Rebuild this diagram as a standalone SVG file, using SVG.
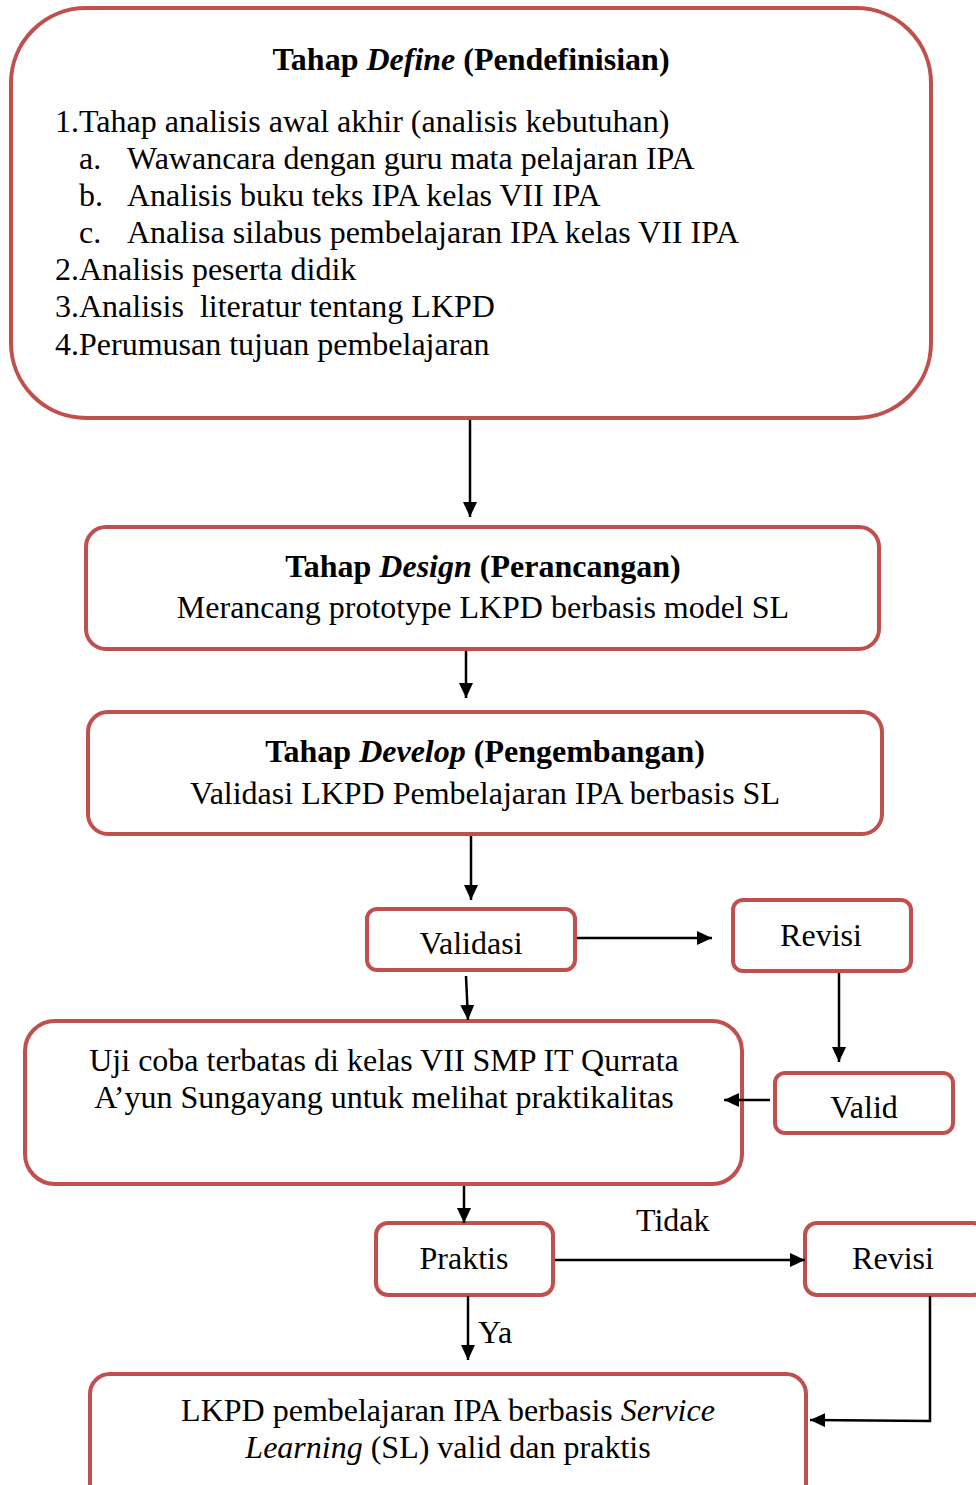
<svg xmlns="http://www.w3.org/2000/svg" width="976" height="1485" viewBox="0 0 976 1485">
<style>
.box{fill:#fff;stroke:#C0504D;stroke-width:4}
text{font-family:"Liberation Serif","Times New Roman",serif;font-size:32px;fill:#000}
.c{text-anchor:middle}
.b{font-weight:bold}
.i{font-style:italic}
.ln{stroke:#000;stroke-width:2.5;fill:none}
</style>
<defs>
<marker id="ah" markerWidth="15" markerHeight="14" refX="15" refY="7" orient="auto" markerUnits="userSpaceOnUse" viewBox="0 0 15 14">
<path d="M0,0 L15,7 L0,14 z" fill="#000"/>
</marker>
</defs>
<rect width="976" height="1485" fill="#fff"/>
<g id="define">
<rect class="box" x="11" y="8" width="920" height="410" rx="75" ry="75"/>
<text class="c b" x="471" y="70">Tahap <tspan class="i">Define</tspan> (Pendefinisian)</text>
<text x="55" y="132">1.Tahap analisis awal akhir (analisis kebutuhan)</text>
<text x="79" y="169">a.</text><text x="127" y="169">Wawancara dengan guru mata pelajaran IPA</text>
<text x="79" y="206">b.</text><text x="127" y="206">Analisis buku teks IPA kelas VII IPA</text>
<text x="79" y="243">c.</text><text x="127" y="243">Analisa silabus pembelajaran IPA kelas VII IPA</text>
<text x="55" y="280">2.Analisis peserta didik</text>
<text x="55" y="317" xml:space="preserve">3.Analisis  literatur tentang LKPD</text>
<text x="55" y="355">4.Perumusan tujuan pembelajaran</text>
</g>
<g id="design">
<rect class="box" x="86" y="527" width="793" height="122" rx="20" ry="20"/>
<text class="c b" x="483" y="577">Tahap <tspan class="i">Design</tspan> (Perancangan)</text>
<text class="c" x="483" y="618">Merancang prototype LKPD berbasis model SL</text>
</g>
<g id="develop">
<rect class="box" x="88" y="712" width="794" height="122" rx="20" ry="20"/>
<text class="c b" x="485" y="762">Tahap <tspan class="i">Develop</tspan> (Pengembangan)</text>
<text class="c" x="485" y="804">Validasi LKPD Pembelajaran IPA berbasis SL</text>
</g>
<g id="validasi">
<rect class="box" x="367" y="909" width="208" height="61" rx="10" ry="10"/>
<text class="c" x="471" y="954">Validasi</text>
</g>
<g id="revisi1">
<rect class="box" x="733" y="900" width="178" height="71" rx="10" ry="10"/>
<text class="c" x="821" y="946">Revisi</text>
</g>
<g id="valid">
<rect class="box" x="775" y="1073" width="178" height="60" rx="10" ry="10"/>
<text class="c" x="864" y="1118">Valid</text>
</g>
<g id="ujicoba">
<rect class="box" x="25" y="1021" width="717" height="163" rx="30" ry="30"/>
<text class="c" x="384" y="1071">Uji coba terbatas di kelas VII SMP IT Qurrata</text>
<text class="c" x="384" y="1108">A’yun Sungayang untuk melihat praktikalitas</text>
</g>
<g id="praktis">
<rect class="box" x="376" y="1223" width="177" height="72" rx="12" ry="12"/>
<text class="c" x="464" y="1269">Praktis</text>
</g>
<g id="revisi2">
<rect class="box" x="805" y="1223" width="180" height="72" rx="12" ry="12"/>
<text class="c" x="893" y="1269">Revisi</text>
</g>
<g id="final">
<rect class="box" x="90" y="1374" width="716" height="140" rx="20" ry="20"/>
<text class="c" x="448" y="1421">LKPD pembelajaran IPA berbasis <tspan class="i">Service</tspan></text>
<text class="c" x="448" y="1458"><tspan class="i">Learning</tspan> (SL) valid dan praktis</text>
</g>
<g id="connectors">
<line class="ln" x1="470" y1="420" x2="470" y2="517" marker-end="url(#ah)"/>
<line class="ln" x1="466" y1="651" x2="466" y2="698" marker-end="url(#ah)"/>
<line class="ln" x1="471" y1="836" x2="471" y2="900" marker-end="url(#ah)"/>
<line class="ln" x1="577" y1="938" x2="712" y2="938" marker-end="url(#ah)"/>
<line class="ln" x1="839" y1="973" x2="839" y2="1062" marker-end="url(#ah)"/>
<line class="ln" x1="770" y1="1100" x2="724" y2="1100" marker-end="url(#ah)"/>
<line class="ln" x1="466" y1="976" x2="468" y2="1020" marker-end="url(#ah)"/>
<line class="ln" x1="464" y1="1186" x2="464" y2="1223" marker-end="url(#ah)"/>
<line class="ln" x1="555" y1="1260" x2="805" y2="1260" marker-end="url(#ah)"/>
<line class="ln" x1="468" y1="1296" x2="468" y2="1360" marker-end="url(#ah)"/>
<polyline class="ln" points="930,1296 930,1421 810,1420" marker-end="url(#ah)"/>
<text x="636" y="1231">Tidak</text>
<text x="478" y="1343">Ya</text>
</g>
</svg>
